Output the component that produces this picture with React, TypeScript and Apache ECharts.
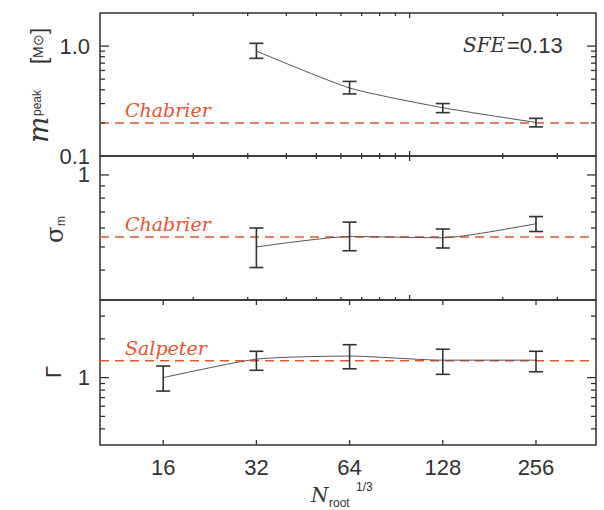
import React, { useEffect, useRef } from 'react';
import * as echarts from 'echarts';

// ---- data ----
const N_MPEAK = [32, 64, 128, 256];
const MPEAK = [0.9, 0.416, 0.275, 0.202];
const MPEAK_LO = [0.774, 0.367, 0.248, 0.184];
const MPEAK_HI = [1.06, 0.477, 0.3, 0.22];

const N_SIGMA = [32, 64, 128, 256];
const SIGMA = [0.5, 0.553, 0.546, 0.625];
const SIGMA_LO = [0.41, 0.482, 0.495, 0.58];
const SIGMA_HI = [0.6, 0.635, 0.594, 0.67];

const N_GAMMA = [16, 32, 64, 128, 256];
const GAMMA = [1.0, 1.39, 1.47, 1.365, 1.365];
const GAMMA_LO = [0.786, 1.14, 1.17, 1.06, 1.11];
const GAMMA_HI = [1.23, 1.6, 1.8, 1.66, 1.6];

const REF_NAMES = ['Chabrier', 'Chabrier', 'Salpeter'];
const REF_VALUES = [0.2, 0.55, 1.35];

const X_MIN = 10;
const X_MAX = 400;
const Y_MINS = [0.1, 0.3, 0.3];
const Y_MAXS = [2, 1.2, 4];

const X_TICKS_POW2 = [16, 32, 64, 128, 256];
const X_TICKS_DEC_MAJOR = [100];
const X_TICKS_DEC_MINOR = [20, 30, 40, 50, 60, 70, 80, 90, 200, 300];
const Y_TICKS_MAJOR = [[1], [1], [1]];
const Y_TICKS_MINOR = [
  [0.2, 0.3, 0.4, 0.5, 0.6, 0.7, 0.8, 0.9],
  [0.4, 0.5, 0.6, 0.7, 0.8, 0.9],
  [0.4, 0.5, 0.6, 0.7, 0.8, 0.9, 2, 3],
];
const Y_LABEL_VALUES = [[0.1, 1], [1], [1]];
const Y_LABEL_TEXTS = [['0.1', '1.0'], ['1'], ['1']];

const SFE_NAME = 'SFE';
const SFE_VALUE = '=0.13';

// ---- styles ----
const INK = '#333333';
const RED = '#e8552d';
const SANS = '"Liberation Sans", Arial, sans-serif';
const SERIF = '"DejaVu Serif", serif';

const GRIDS = [
  { left: 100, top: 13, width: 496, height: 143 },
  { left: 100, top: 156, width: 496, height: 144 },
  { left: 100, top: 300, width: 496, height: 145 },
];

const near = (a: number, b: number) => Math.abs(a - b) < 1e-6 * Math.max(1, Math.abs(b));

const errorBarItem = (params: any, api: any) => {
  const x = api.value(0);
  const pLo = api.coord([x, api.value(1)]);
  const pHi = api.coord([x, api.value(2)]);
  const hw = 7;
  const style = { stroke: INK, lineWidth: 1.6, fill: 'none' };
  return {
    type: 'group',
    children: [
      { type: 'line', shape: { x1: pLo[0], y1: pLo[1], x2: pHi[0], y2: pHi[1] }, style },
      { type: 'line', shape: { x1: pLo[0] - hw, y1: pLo[1], x2: pLo[0] + hw, y2: pLo[1] }, style },
      { type: 'line', shape: { x1: pHi[0] - hw, y1: pHi[1], x2: pHi[0] + hw, y2: pHi[1] }, style },
    ],
  };
};

const makeRefItem = (label: string) => (params: any, api: any) => {
  const cs = params.coordSys;
  const y = api.coord([api.value(0), api.value(1)])[1];
  return {
    type: 'group',
    children: [
      {
        type: 'line',
        shape: { x1: cs.x, y1: y, x2: cs.x + cs.width, y2: y },
        style: { stroke: RED, lineWidth: 1.5, lineDash: [9, 6], fill: 'none' },
      },
      {
        type: 'text',
        x: cs.x + 25,
        y: y - 13,
        style: {
          text: label,
          font: 'italic 19px ' + SERIF,
          fill: RED,
          textAlign: 'left',
          textVerticalAlign: 'middle',
          align: 'left',
          verticalAlign: 'middle',
        },
      },
    ],
  };
};

// kind: 0 y-minor, 1 y-major, 2 x-minor, 3 x-major
const tickItem = (params: any, api: any) => {
  const cs = params.coordSys;
  const kind = api.value(2);
  const p = api.coord([api.value(0), api.value(1)]);
  const style = { stroke: INK, lineWidth: 1.3, fill: 'none' };
  if (kind < 2) {
    const len = kind === 1 ? 9 : 5;
    return {
      type: 'group',
      children: [
        { type: 'line', shape: { x1: cs.x, y1: p[1], x2: cs.x + len, y2: p[1] }, style },
        { type: 'line', shape: { x1: cs.x + cs.width - len, y1: p[1], x2: cs.x + cs.width, y2: p[1] }, style },
      ],
    };
  }
  const len = kind === 3 ? 5 : 3;
  return {
    type: 'group',
    children: [
      { type: 'line', shape: { x1: p[0], y1: cs.y, x2: p[0], y2: cs.y + len }, style },
      { type: 'line', shape: { x1: p[0], y1: cs.y + cs.height - len, x2: p[0], y2: cs.y + cs.height }, style },
    ],
  };
};

const rotText = (text: string, x: number, y: number, font: string) => ({
  type: 'text',
  x,
  y,
  rotation: Math.PI / 2,
  style: { text, font, fill: INK, textAlign: 'left', textVerticalAlign: 'middle', align: 'left', verticalAlign: 'middle' },
});

const flatText = (text: string, x: number, y: number, font: string) => ({
  type: 'text',
  x,
  y,
  style: { text, font, fill: INK, textAlign: 'left', textVerticalAlign: 'middle', align: 'left', verticalAlign: 'middle' },
});

function buildOption() {
  const panels = [
    { n: N_MPEAK, v: MPEAK, lo: MPEAK_LO, hi: MPEAK_HI },
    { n: N_SIGMA, v: SIGMA, lo: SIGMA_LO, hi: SIGMA_HI },
    { n: N_GAMMA, v: GAMMA, lo: GAMMA_LO, hi: GAMMA_HI },
  ];

  const xAxis: any[] = [];
  const yAxis: any[] = [];
  const series: any[] = [];

  GRIDS.forEach((g, i) => {
    xAxis.push({
      type: 'log',
      logBase: 2,
      gridIndex: i,
      min: X_MIN,
      max: X_MAX,
      axisLine: { show: false },
      axisTick: { show: false },
      splitLine: { show: false },
      axisLabel:
        i === 2
          ? {
              show: true,
              showMinLabel: false,
              showMaxLabel: false,
              fontSize: 22,
              fontFamily: SANS,
              color: INK,
              margin: 11,
              formatter: (v: number) => {
                const hit = X_TICKS_POW2.find((t) => near(v, t));
                return hit !== undefined ? String(hit) : '';
              },
            }
          : { show: false },
    });
    yAxis.push({
      type: 'log',
      logBase: 10,
      gridIndex: i,
      min: Y_MINS[i],
      max: Y_MAXS[i],
      axisLine: { show: false },
      axisTick: { show: false },
      splitLine: { show: false },
      axisLabel: {
        fontSize: 22,
        fontFamily: SANS,
        color: INK,
        margin: 10,
        formatter: (v: number) => {
          const k = Y_LABEL_VALUES[i].findIndex((t) => near(v, t));
          return k >= 0 ? Y_LABEL_TEXTS[i][k] : '';
        },
      },
    });

    const p = panels[i];
    series.push({
      type: 'line',
      xAxisIndex: i,
      yAxisIndex: i,
      data: p.n.map((n, k) => [n, p.v[k]]),
      smooth: 0.2,
      showSymbol: false,
      lineStyle: { color: '#555', width: 1 },
      z: 3,
    });
    series.push({
      type: 'custom',
      xAxisIndex: i,
      yAxisIndex: i,
      data: p.n.map((n, k) => [n, p.lo[k], p.hi[k]]),
      encode: { x: 0, y: [1, 2] },
      renderItem: errorBarItem,
      z: 4,
    });
    series.push({
      type: 'custom',
      xAxisIndex: i,
      yAxisIndex: i,
      data: [[X_MIN, REF_VALUES[i]]],
      encode: { x: 0, y: 1 },
      renderItem: makeRefItem(REF_NAMES[i]),
      z: 2,
    });

    const yRef = Y_TICKS_MAJOR[i][0];
    const ticks: number[][] = [];
    Y_TICKS_MINOR[i].forEach((t) => ticks.push([X_MIN, t, 0]));
    Y_TICKS_MAJOR[i].forEach((t) => ticks.push([X_MIN, t, 1]));
    if (i < 2) {
      X_TICKS_DEC_MINOR.forEach((t) => ticks.push([t, yRef, 2]));
      X_TICKS_DEC_MAJOR.forEach((t) => ticks.push([t, yRef, 3]));
    } else {
      X_TICKS_POW2.forEach((t) => ticks.push([t, yRef, 3]));
    }
    series.push({
      type: 'custom',
      xAxisIndex: i,
      yAxisIndex: i,
      data: ticks,
      encode: { x: 0, y: 1 },
      renderItem: tickItem,
      z: 5,
    });
  });

  const graphic: any[] = [
    // y names
    rotText('m', 38, 143, 'italic 28px ' + SERIF),
    rotText('peak', 37, 116, '12px ' + SANS),
    rotText('[', 38, 64, '22px ' + SANS),
    rotText('M\u2299', 38, 58, '14px ' + SANS),
    rotText(']', 38, 34, '22px ' + SANS),
    rotText('\u03c3', 55, 243, '24px ' + SERIF),
    rotText('m', 61, 226, '12px ' + SANS),
    rotText('\u0393', 53, 378, '22px ' + SANS),
    // x name
    flatText('N', 311, 495, 'italic 20px ' + SERIF),
    flatText('root', 329, 503, '12px ' + SANS),
    flatText('1/3', 356, 487, '12px ' + SANS),
    // annotation
    flatText(SFE_NAME, 463, 45, 'italic 20px ' + SERIF),
    flatText(SFE_VALUE, 507, 45, '22px ' + SANS),
  ];

  return {
    animation: false,
    backgroundColor: '#ffffff',
    grid: GRIDS.map((g) => ({ ...g, show: true, borderColor: INK, borderWidth: 1.5, backgroundColor: 'transparent' })),
    xAxis,
    yAxis,
    series,
    graphic,
  };
}

export default function App() {
  const ref = useRef<HTMLDivElement>(null);
  useEffect(() => {
    document.body.style.margin = '0';
    if (!ref.current) return;
    const chart = echarts.init(ref.current, undefined, { renderer: 'svg' });
    chart.setOption(buildOption() as any);
    return () => chart.dispose();
  }, []);
  return <div ref={ref} style={{ width: 604, height: 510 }} />;
}
